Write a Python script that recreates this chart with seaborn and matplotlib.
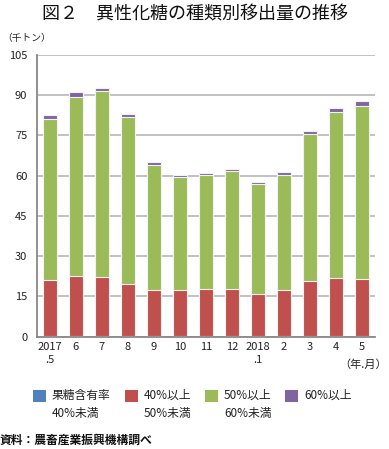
import numpy as np
import pandas as pd
import matplotlib
matplotlib.use("Agg")
import matplotlib.pyplot as plt
import matplotlib.patches as mpatches
import seaborn as sns

# データ（千トン、グラフから読み取り）
months = ["2017\n.5", "6", "7", "8", "9", "10", "11", "12", "2018\n.1", "2", "3", "4", "5"]
under40 = [0.1, 0.1, 0.1, 0.1, 0.1, 0.1, 0.1, 0.1, 0.1, 0.1, 0.1, 0.1, 0.1]
r40_50 = [21.1, 22.6, 22.2, 19.6, 17.2, 17.4, 17.8, 17.8, 15.9, 17.4, 20.6, 21.6, 21.4]
r50_60 = [59.8, 66.7, 69.2, 62.1, 46.6, 41.8, 42.3, 43.8, 40.8, 42.6, 54.9, 62.0, 64.5]
over60 = [1.4, 1.7, 1.2, 1.0, 1.0, 0.8, 0.7, 0.8, 0.9, 1.1, 1.1, 1.3, 1.7]

series_labels = ["果糖含有率\n40%未満", "40%以上\n50%未満", "50%以上\n60%未満", "60%以上"]
colors = ["#4f81bd", "#c0504d", "#9bbb59", "#8064a2"]

df = pd.DataFrame({"month": months, "s1": under40, "s2": r40_50, "s3": r50_60, "s4": over60})
# 積み上げ用の累計
df["c1"] = df["s1"]
df["c2"] = df["c1"] + df["s2"]
df["c3"] = df["c2"] + df["s3"]
df["c4"] = df["c3"] + df["s4"]

sns.set_style("white")
plt.rcParams["font.family"] = ["Noto Sans CJK JP", "DejaVu Sans"]

W, H = 389, 449
fig = plt.figure(figsize=(W / 100, H / 100), dpi=100)
ax = fig.add_axes([0.0951, 0.2501, 0.869, 0.628])

# 上の層から順に重ねて描く
for col, c in zip(["c4", "c3", "c2", "c1"], colors[::-1]):
    sns.barplot(data=df, x="month", y=col, color=c, width=0.565, order=months,
                edgecolor="#f2f2f2", linewidth=0.8, saturation=1, ax=ax)

ax.set_ylim(0, 105)
ax.set_xlim(-0.5, len(months) - 0.5)
ax.set_yticks(np.arange(0, 106, 15))
ax.yaxis.grid(True, color="#b0b0b0", linewidth=1.1)
ax.set_axisbelow(True)
ax.set_xlabel("")
ax.set_ylabel("")

for s in ["top", "right"]:
    ax.spines[s].set_visible(False)
for s in ["left", "bottom"]:
    ax.spines[s].set_color("#888888")
    ax.spines[s].set_linewidth(1.3)

ax.tick_params(axis="x", which="major", length=0, labelsize=8, pad=4, colors="#222222")
ax.set_xticks(np.arange(-0.5, len(months), 1), minor=True)
ax.tick_params(axis="x", which="minor", length=4, color="#888888", width=1, direction="out")
ax.tick_params(axis="y", length=4, width=1, labelsize=8, pad=3, colors="#888888",
               labelcolor="#222222")
for t in ax.get_xticklabels():
    t.set_linespacing(1.4)
    t.set_verticalalignment("top")

fig.text(387 / W, 1 - 365 / H, "（年.月）", ha="right", va="center",
         fontsize=8, color="#222222")

fig.text(0.5, 0.967, "図２　異性化糖の種類別移出量の推移", ha="center", va="center",
         fontsize=13, color="#111111")
fig.text(0.005, 0.915, "（千トン）", ha="left", va="center", fontsize=7, color="#222222")

# 凡例（手動配置：四角は1行目にそろえる）
box_x = [33, 125, 205, 285]
for bx, c, lab in zip(box_x, colors, series_labels):
    fig.add_artist(mpatches.Rectangle((bx / W, 1 - 402 / H), 13 / W, 12 / H,
                                      facecolor=c, edgecolor="none",
                                      transform=fig.transFigure))
    fig.text((bx + 19) / W, 1 - 389 / H, lab, ha="left", va="top", fontsize=8.5,
             color="#222222", linespacing=1.45)

fig.text(0.0, 1 - 440 / H, "資料：農畜産業振興機構調べ", ha="left", va="center", fontsize=8.5,
         fontweight="bold", color="#111111")

fig.savefig("out.png", dpi=100)
